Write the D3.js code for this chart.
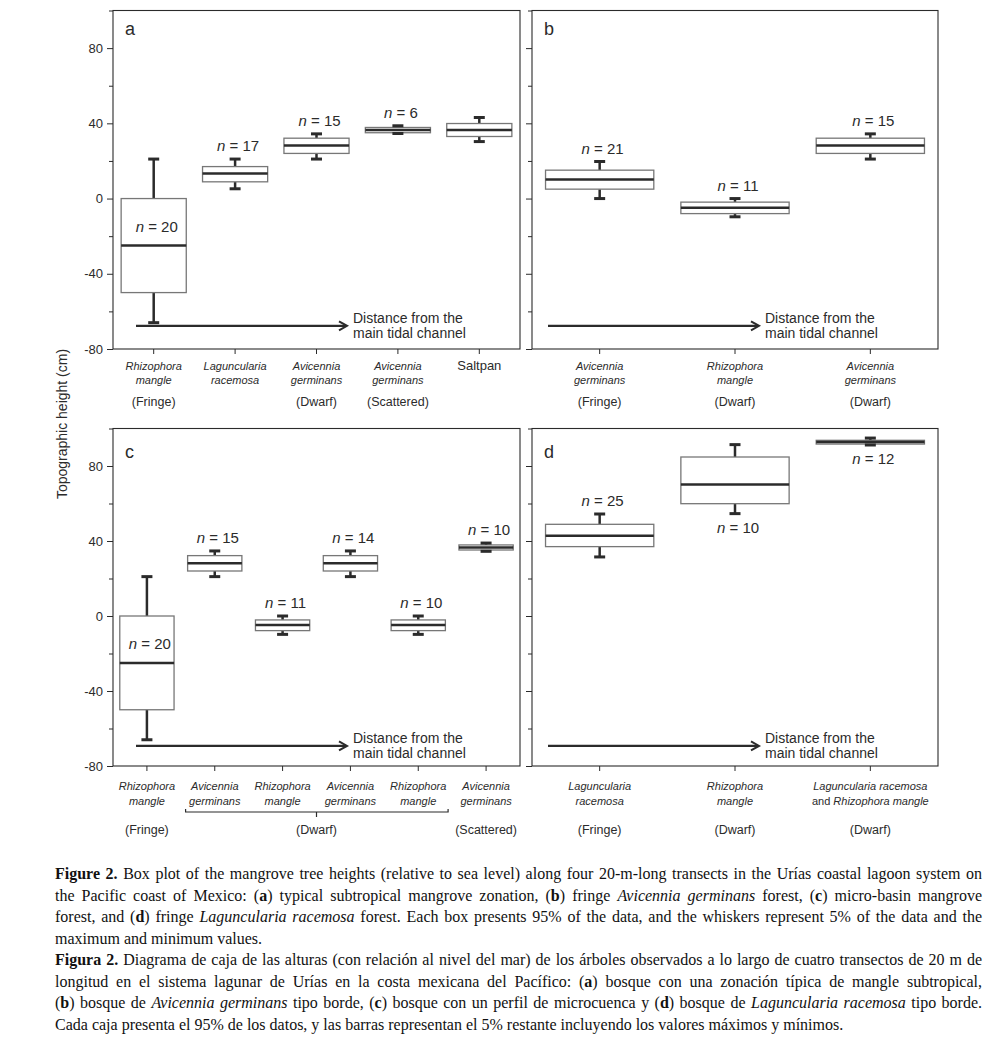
<!DOCTYPE html>
<html><head><meta charset="utf-8">
<script src="https://cdn.jsdelivr.net/npm/d3@7"></script>
<style>
html,body{margin:0;padding:0;background:#fff;}
svg{display:block;}
text{white-space:pre;}
</style></head>
<body>
<svg id="chart" width="989" height="1039"></svg>
<script>
// ---------------- DATA ----------------
const yDomain = [-80, 100];
const yTicksMajor = [-80, -40, 0, 40, 80];
const yTicksMinor = [-60, -20, 20, 60, 100];

// Panel a
const catsA = ["Rhizophora|mangle", "Laguncularia|racemosa", "Avicennia|germinans", "Avicennia|germinans", "{Saltpan}"];
const groupsA = ["(Fringe)", "", "(Dwarf)", "(Scattered)", ""];
const loA  = [-66, 5.2, 21, 34.6, 30.3];
const q1A  = [-50, 8.9, 24, 35.0, 33.0];
const medA = [-25, 13.3, 28.2, 36.4, 36.4];
const q3A  = [0, 17, 32.1, 37.8, 39.9];
const hiA  = [21, 21, 34.4, 38.7, 43.1];
const nA   = [20, 17, 15, 6, null];
const nPosA = ["inside", "above", "above", "above", ""];

// Panel b
const catsB = ["Avicennia|germinans", "Rhizophora|mangle", "Avicennia|germinans"];
const groupsB = ["(Fringe)", "(Dwarf)", "(Dwarf)"];
const loB  = [0, -9.7, 21];
const q1B  = [5, -8, 24];
const medB = [10.1, -4.9, 28.2];
const q3B  = [15.1, -1.9, 32.1];
const hiB  = [19.7, 0, 34.4];
const nB   = [21, 11, 15];
const nPosB = ["above", "above", "above"];

// Panel c
const catsC = ["Rhizophora|mangle", "Avicennia|germinans", "Rhizophora|mangle", "Avicennia|germinans", "Rhizophora|mangle", "Avicennia|germinans"];
const groupsC = ["(Fringe)", "", "", "", "", "(Scattered)"];
const bracketC = { from: 1, to: 4, label: "(Dwarf)" };
const loC  = [-66, 21, -9.8, 21, -9.8, 34.5];
const q1C  = [-50, 24, -7.8, 24, -7.8, 35.2];
const medC = [-25, 28.1, -4.8, 28.1, -4.8, 36.6];
const q3C  = [0, 32.2, -2.1, 32.2, -2.1, 37.9];
const hiC  = [21, 34.7, 0, 34.7, 0, 38.9];
const nC   = [20, 15, 11, 14, 10, 10];
const nPosC = ["inside", "above", "above", "above", "above", "above"];

// Panel d
const catsD = ["Laguncularia|racemosa", "Rhizophora|mangle", "Laguncularia racemosa|{and }Rhizophora mangle"];
const groupsD = ["(Fringe)", "(Dwarf)", "(Dwarf)"];
const loD  = [31.5, 54.6, 91.2];
const q1D  = [37, 59.9, 91.7];
const medD = [42.8, 70.2, 92.8];
const q3D  = [48.9, 84.8, 93.7];
const hiD  = [54.4, 91.4, 94.9];
const nD   = [25, 10, 12];
const nPosD = ["above", "below", "below"];

const yLabel = "Topographic height (cm)";
const arrowText = ["Distance from the", "main tidal channel"];

const captionLines = [
 [["Figure 2.","b"],[" Box plot of the mangrove tree heights (relative to sea level) along four 20-m-long transects in the Urías coastal lagoon system on",""]],
 [["the Pacific coast of Mexico: (",""],["a","b"],[") typical subtropical mangrove zonation, (",""],["b","b"],[") fringe ",""],["Avicennia germinans","i"],[" forest, (",""],["c","b"],[") micro-basin mangrove",""]],
 [["forest, and (",""],["d","b"],[") fringe ",""],["Laguncularia racemosa","i"],[" forest. Each box presents 95% of the data, and the whiskers represent 5% of the data and the",""]],
 [["maximum and minimum values.",""]],
 [["Figura 2.","b"],[" Diagrama de caja de las alturas (con relación al nivel del mar) de los árboles observados a lo largo de cuatro transectos de 20 m de",""]],
 [["longitud en el sistema lagunar de Urías en la costa mexicana del Pacífico: (",""],["a","b"],[") bosque con una zonación típica de mangle subtropical,",""]],
 [["(",""],["b","b"],[") bosque de ",""],["Avicennia germinans","i"],[" tipo borde, (",""],["c","b"],[") bosque con un perfil de microcuenca y (",""],["d","b"],[") bosque de ",""],["Laguncularia racemosa","i"],[" tipo borde.",""]],
 [["Cada caja presenta el 95% de los datos, y las barras representan el 5% restante incluyendo los valores máximos y mínimos.",""]]
];
const captionJustify = [true, true, true, false, true, true, true, false];

// ---------------- LAYOUT ----------------
const panels = [
 {id:"a", cats:catsA, groups:groupsA, lo:loA, q1:q1A, med:medA, q3:q3A, hi:hiA, n:nA, npos:nPosA,
  x0:113, x1:520, y0:10.5, y1:349, tickLabels:true, row:0, arrowA:23, arrowB:234, arrowV:-67.7},
 {id:"b", cats:catsB, groups:groupsB, lo:loB, q1:q1B, med:medB, q3:q3B, hi:hiB, n:nB, npos:nPosB,
  x0:532, x1:938, y0:10.5, y1:349, tickLabels:false, row:0, arrowA:16, arrowB:227, arrowV:-67.7},
 {id:"c", cats:catsC, groups:groupsC, lo:loC, q1:q1C, med:medC, q3:q3C, hi:hiC, n:nC, npos:nPosC, bracket:bracketC,
  x0:113, x1:520, y0:428.5, y1:766, tickLabels:true, row:1, arrowA:23, arrowB:234, arrowV:-69.3},
 {id:"d", cats:catsD, groups:groupsD, lo:loD, q1:q1D, med:medD, q3:q3D, hi:hiD, n:nD, npos:nPosD,
  x0:532, x1:938, y0:428.5, y1:766, tickLabels:false, row:1, arrowA:16, arrowB:227, arrowV:-69.3}
];

const INK = "#2b2b2b";
const FONT = "'Liberation Sans', Arial, sans-serif";
const svg = d3.select("#chart");

function addRich(textSel, str) {
  // segments in {...} are upright, others italic
  const re = /\{([^}]*)\}|([^{]+)/g;
  let m;
  while ((m = re.exec(str)) !== null) {
    if (m[1] !== undefined) textSel.append("tspan").attr("font-style", "normal").text(m[1]);
    else textSel.append("tspan").attr("font-style", "italic").text(m[2]);
  }
}

panels.forEach(p => {
  const g = svg.append("g");
  const y = d3.scaleLinear().domain(yDomain).range([p.y1, p.y0]);
  const x = d3.scaleBand().domain(d3.range(p.cats.length)).range([p.x0, p.x1]).padding(0);
  const bw = x.bandwidth() * 0.8;
  const cx = i => x(i) + x.bandwidth() / 2;

  // minor y ticks
  const yMinor = g.append("g").attr("transform", `translate(${p.x0},0)`)
    .call(d3.axisLeft(y).tickValues(yTicksMinor).tickSize(4).tickFormat(""));
  yMinor.select(".domain").remove();
  // major y ticks
  const yMajor = g.append("g").attr("transform", `translate(${p.x0},0)`)
    .call(d3.axisLeft(y).tickValues(yTicksMajor).tickSize(6).tickPadding(4)
      .tickFormat(p.tickLabels ? (d => String(d)) : ""));
  yMajor.select(".domain").remove();
  // x ticks
  const xAx = g.append("g").attr("transform", `translate(0,${p.y1})`)
    .call(d3.axisBottom(x).tickSize(5).tickFormat(""));
  xAx.select(".domain").remove();
  g.selectAll(".tick line").attr("stroke", INK);
  g.selectAll(".tick text").attr("font-family", FONT).attr("font-size", 13).attr("fill", INK);

  // frame
  g.append("rect").attr("x", p.x0).attr("y", p.y0).attr("width", p.x1 - p.x0).attr("height", p.y1 - p.y0)
    .attr("fill", "none").attr("stroke", INK).attr("stroke-width", 1.1);

  // panel letter
  g.append("text").attr("x", p.x0 + 12).attr("y", p.y0 + (p.row === 0 ? 24 : 29))
    .attr("font-family", FONT).attr("font-size", 18).attr("fill", INK).text(p.id);

  // boxes
  const idx = d3.range(p.cats.length);
  const bg = g.append("g");
  // whisker stems
  bg.selectAll(".wu").data(idx).join("line")
    .attr("x1", cx).attr("x2", cx).attr("y1", i => y(p.hi[i])).attr("y2", i => y(p.q3[i]))
    .attr("stroke", INK).attr("stroke-width", 2.5);
  bg.selectAll(".wl").data(idx).join("line")
    .attr("x1", cx).attr("x2", cx).attr("y1", i => y(p.q1[i])).attr("y2", i => y(p.lo[i]))
    .attr("stroke", INK).attr("stroke-width", 2.5);
  // box
  bg.selectAll(".bx").data(idx).join("rect")
    .attr("x", i => cx(i) - bw / 2).attr("width", bw)
    .attr("y", i => y(p.q3[i])).attr("height", i => y(p.q1[i]) - y(p.q3[i]))
    .attr("fill", "#fff").attr("stroke", "#777").attr("stroke-width", 1.3);
  // median
  bg.selectAll(".md").data(idx).join("line")
    .attr("x1", i => cx(i) - bw / 2).attr("x2", i => cx(i) + bw / 2)
    .attr("y1", i => y(p.med[i])).attr("y2", i => y(p.med[i]))
    .attr("stroke", INK).attr("stroke-width", 2.5);
  // caps
  [p.hi, p.lo].forEach(arr => {
    bg.selectAll(null).data(idx).join("line")
      .attr("x1", i => cx(i) - 5.5).attr("x2", i => cx(i) + 5.5)
      .attr("y1", i => y(arr[i])).attr("y2", i => y(arr[i]))
      .attr("stroke", INK).attr("stroke-width", 3);
  });

  // n labels
  idx.filter(i => p.n[i] != null).forEach(i => {
    let by;
    if (p.npos[i] === "above") by = y(p.hi[i]) - 8;
    else if (p.npos[i] === "below") by = y(p.lo[i]) + 19;
    else by = y(p.q3[i]) + 33;
    const t = g.append("text").attr("x", cx(i) + 3).attr("y", by).attr("text-anchor", "middle")
      .attr("font-family", FONT).attr("font-size", 15).attr("fill", INK);
    t.append("tspan").attr("font-style", "italic").text("n");
    t.append("tspan").text(" = " + p.n[i]);
  });

  // arrow
  const ay = y(p.arrowV);
  const ax0 = p.x0 + p.arrowA, ax1 = p.x0 + p.arrowB;
  g.append("line").attr("x1", ax0).attr("x2", ax1 - 1).attr("y1", ay).attr("y2", ay)
    .attr("stroke", INK).attr("stroke-width", 2.2);
  g.append("path").attr("d", `M${ax1 - 8},${ay - 4.5}L${ax1},${ay}L${ax1 - 8},${ay + 4.5}`)
    .attr("fill", "none").attr("stroke", INK).attr("stroke-width", 2);
  arrowText.forEach((s, k) => {
    g.append("text").attr("x", ax1 + 6).attr("y", ay - 3 + k * 15.5)
      .attr("font-family", FONT).attr("font-size", 14).attr("fill", INK).text(s);
  });

  // category labels
  const l1 = p.y1 + (p.row === 0 ? 20.5 : 23.5);
  const l2 = p.y1 + (p.row === 0 ? 34.5 : 38.5);
  const l3 = p.y1 + (p.row === 0 ? 56.5 : 68);
  p.cats.forEach((c, i) => {
    c.split("|").forEach((line, k) => {
      const t = g.append("text").attr("x", cx(i)).attr("y", k === 0 ? l1 : l2).attr("text-anchor", "middle")
        .attr("font-family", FONT).attr("font-size", 11).attr("fill", INK);
      if (line.startsWith("{") && line.endsWith("}") && line.indexOf("}") === line.length - 1)
        t.attr("font-size", 13);
      addRich(t, line);
    });
    if (p.groups[i]) {
      g.append("text").attr("x", cx(i)).attr("y", l3).attr("text-anchor", "middle")
        .attr("font-family", FONT).attr("font-size", 12.5).attr("fill", INK).text(p.groups[i]);
    }
  });
  if (p.bracket) {
    const b = p.bracket;
    const bx0 = cx(b.from) - x.bandwidth() * 0.43, bx1 = cx(b.to) + x.bandwidth() * 0.44;
    const by = p.y1 + 46;
    g.append("path").attr("d", `M${bx0},${by - 3}V${by}H${bx1}V${by - 3}`)
      .attr("fill", "none").attr("stroke", INK).attr("stroke-width", 1.2);
    const mid = (cx(b.from) + cx(b.to)) / 2;
    g.append("line").attr("x1", mid).attr("x2", mid).attr("y1", by).attr("y2", by + 5)
      .attr("stroke", INK).attr("stroke-width", 1.2);
    g.append("text").attr("x", mid).attr("y", l3).attr("text-anchor", "middle")
      .attr("font-family", FONT).attr("font-size", 12.5).attr("fill", INK).text(b.label);
  }
});

// y label
svg.append("text").attr("transform", "translate(67,424) rotate(-90)").attr("text-anchor", "middle")
  .attr("font-family", FONT).attr("font-size", 14).attr("fill", INK).text(yLabel);

// caption
const capX = 55, capW = 927, capY0 = 879, capLH = 21.57;
captionLines.forEach((segs, li) => {
  const t = svg.append("text").attr("x", capX).attr("y", capY0 + li * capLH)
    .attr("font-family", "'Liberation Serif', 'Times New Roman', serif").attr("font-size", 16).attr("fill", "#111");
  segs.forEach(([s, st]) => {
    const ts = t.append("tspan").text(s);
    if (st === "b") ts.attr("font-weight", "bold");
    if (st === "i") ts.attr("font-style", "italic");
  });
  if (captionJustify[li]) {
    const w = t.node().getComputedTextLength();
    const spaces = segs.map(d => d[0]).join("").split(" ").length - 1;
    if (spaces > 0) t.attr("word-spacing", (capW - w) / spaces);
  }
});
</script>
</body></html>
